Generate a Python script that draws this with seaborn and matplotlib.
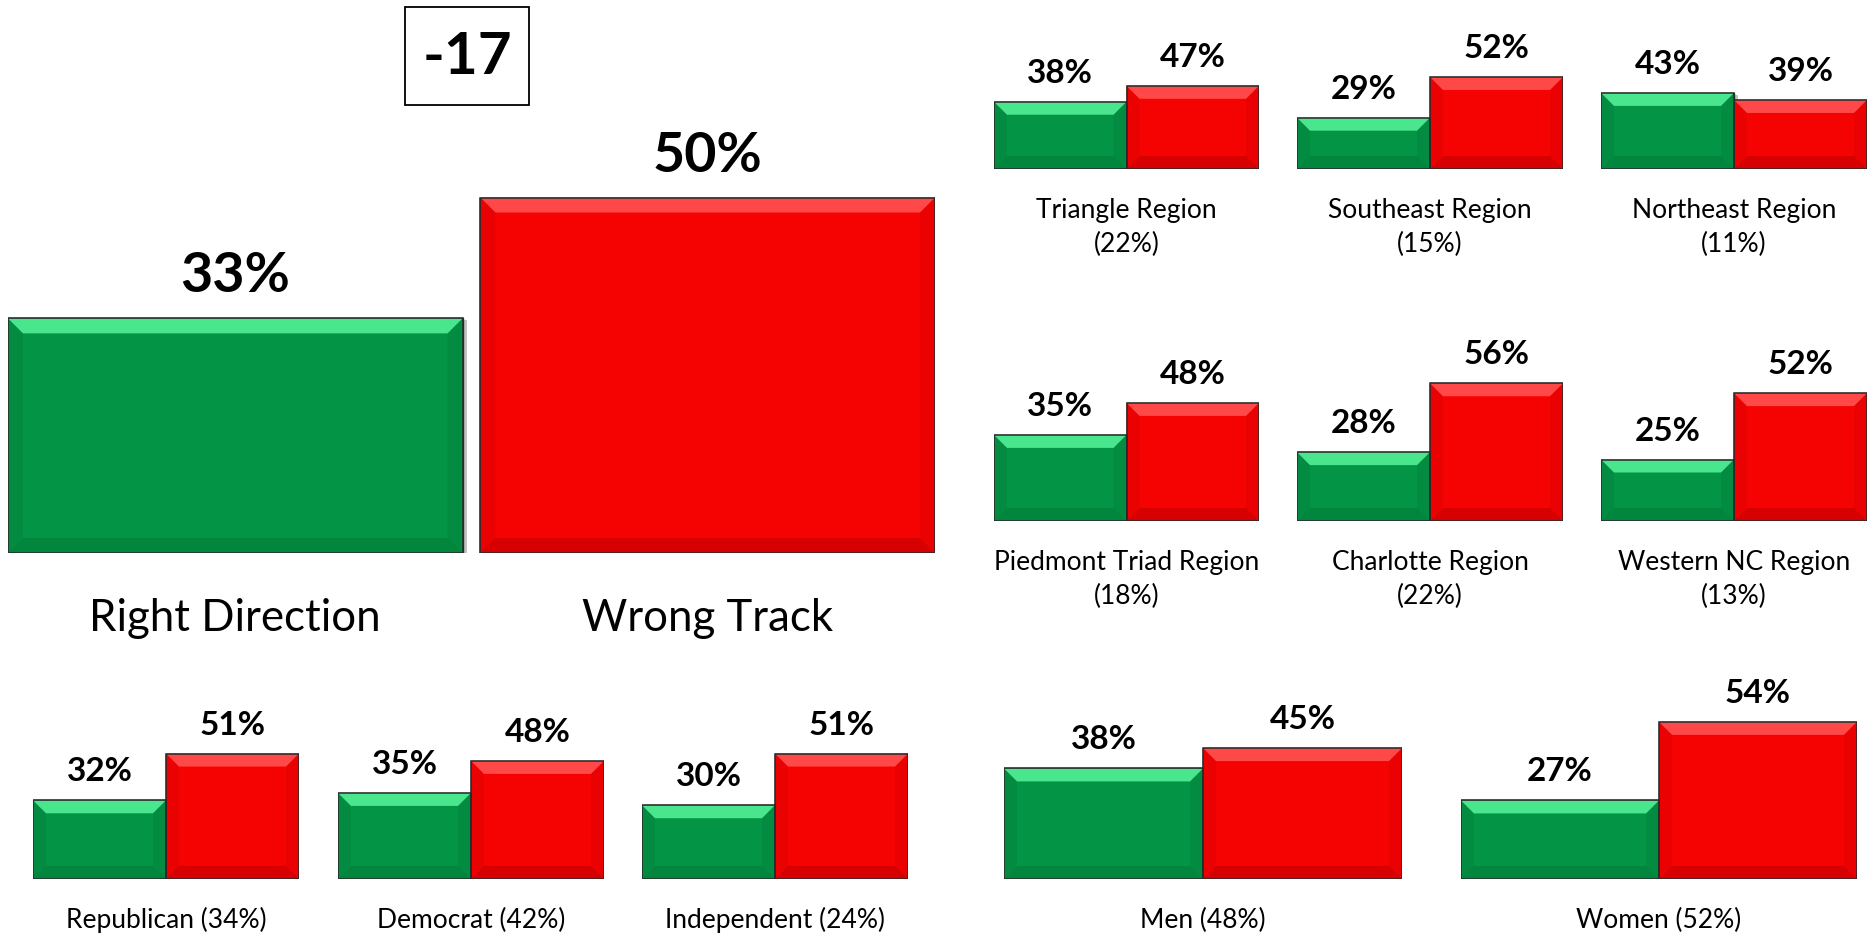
import numpy as np
import pandas as pd
import matplotlib
matplotlib.use("Agg")
import matplotlib.pyplot as plt
import matplotlib.patheffects as pe
from matplotlib.patches import Polygon, Rectangle
import seaborn as sns

# ---------------- data ----------------
answers = ["Right Direction", "Wrong Track"]
overall_values = [33, 50]

region_names = ["Triangle Region", "Southeast Region", "Northeast Region",
                "Piedmont Triad Region", "Charlotte Region", "Western NC Region"]
region_shares = ["22%", "15%", "11%", "18%", "22%", "13%"]
region_right = [38, 29, 43, 35, 28, 25]
region_wrong = [47, 52, 39, 48, 56, 52]

party_names = ["Republican", "Democrat", "Independent"]
party_shares = ["34%", "42%", "24%"]
party_right = [32, 35, 30]
party_wrong = [51, 48, 51]

gender_names = ["Men", "Women"]
gender_shares = ["48%", "52%"]
gender_right = [38, 27]
gender_wrong = [45, 54]

# ---------------- style ----------------
GREEN, RED = "#039445", "#F50303"
GREEN_TOP, RED_TOP = "#4AE68E", "#FF4848"
GREEN_BOT, RED_BOT = "#02853D", "#D60000"
GREEN_SIDE, RED_SIDE = "#038C41", "#EA0202"
EDGE = "#2A2A2A"
palette = {answers[0]: GREEN, answers[1]: RED}
tops = [GREEN_TOP, RED_TOP]
bots = [GREEN_BOT, RED_BOT]
sides = [GREEN_SIDE, RED_SIDE]

sns.set_theme(style="white")
plt.rcParams["font.family"] = ["Lato", "DejaVu Sans"]

W, H = 1868, 935
fig = plt.figure(figsize=(W / 100, H / 100), dpi=100)
fig.patch.set_facecolor("white")
YMAX = 60


def make_axes(left, right, baseline, ppp):
    h = YMAX * ppp
    return fig.add_axes([left / W, 1 - baseline / H, (right - left) / W, h / H])


def draw_panel(ax, vals, width, bevel, val_size, val_off):
    df = pd.DataFrame({"answer": answers, "pct": vals})
    sns.barplot(data=df, x="answer", y="pct", hue="answer", palette=palette,
                width=width, saturation=1, legend=False, errorbar=None,
                edgecolor=EDGE, linewidth=1.0, ax=ax, zorder=2)
    ax.set_xlim(-width / 2, 1 + width / 2)
    ax.set_ylim(0, YMAX)
    ax.axis("off")
    inv = ax.transData.inverted()
    bars = sorted(ax.patches, key=lambda p: p.get_x())
    for i, bar in enumerate(bars):
        bar.set_path_effects([pe.SimplePatchShadow(offset=(3, -1.5), shadow_rgbFace="#8a8a8a", alpha=0.5),
                              pe.Normal()])
        x0, y0 = bar.get_x(), bar.get_y()
        x1, y1 = x0 + bar.get_width(), y0 + bar.get_height()
        (px0, py0), (px1, py1) = ax.transData.transform([(x0, y0), (x1, y1)])
        b = bevel
        polys = [
            ([(px0, py0), (px0 + b, py0 + b), (px0 + b, py1 - b), (px0, py1)], sides[i]),
            ([(px1, py0), (px1 - b, py0 + b), (px1 - b, py1 - b), (px1, py1)], sides[i]),
            ([(px0, py1), (px1, py1), (px1 - b, py1 - b), (px0 + b, py1 - b)], tops[i]),
            ([(px0, py0), (px1, py0), (px1 - b, py0 + b), (px0 + b, py0 + b)], bots[i]),
        ]
        for pts, col in polys:
            ax.add_patch(Polygon(inv.transform(pts), closed=True, facecolor=col,
                                 edgecolor="none", zorder=3))
        ax.add_patch(Rectangle((x0, y0), x1 - x0, y1 - y0, facecolor="none",
                               edgecolor=EDGE, linewidth=1.1, zorder=4))
        ax.annotate(f"{vals[i]}%", xy=(i, vals[i]), xytext=(0, val_off),
                    textcoords="offset pixels", ha="center", va="baseline",
                    fontsize=val_size, fontweight="bold", color="black",
                    annotation_clip=False)


def small_label(ax, lines, size, first_off=49, spacing=34):
    for k, line in enumerate(lines):
        ax.annotate(line, xy=(0.5, 0), xycoords="axes fraction",
                    xytext=(0, -first_off - k * spacing), textcoords="offset pixels",
                    ha="center", va="baseline", fontsize=size, color="black",
                    annotation_clip=False)


# ---------------- overall panel ----------------
ax = make_axes(8, 935, 553, 7.11)
draw_panel(ax, overall_values, 0.962, 15, 40, 26)
for i, name in enumerate(answers):
    ax.annotate(name, xy=(i, 0), xytext=(0, -78), textcoords="offset pixels",
                ha="center", va="baseline", fontsize=31.5, color="black",
                annotation_clip=False)

net = overall_values[0] - overall_values[1]
fig.patches.append(Rectangle((405 / W, 1 - 105 / H), 124 / W, 98 / H,
                             transform=fig.transFigure, facecolor="white",
                             edgecolor="black", linewidth=1.3))
fig.text(467 / W, 1 - 74 / H, f"{net}", ha="center", va="baseline",
         fontsize=42, fontweight="bold", color="black")

# ---------------- regions ----------------
col_x = [(994, 1259), (1297, 1563), (1601, 1867)]
rows = [(169, 1.77), (521, 2.46)]
for idx in range(6):
    r, c = divmod(idx, 3)
    baseline, ppp = rows[r]
    ax = make_axes(col_x[c][0], col_x[c][1], baseline, ppp)
    draw_panel(ax, [region_right[idx], region_wrong[idx]], 1.0, 13, 24, 19)
    small_label(ax, [region_names[idx], f"({region_shares[idx]})"], 19)

# ---------------- party ----------------
party_x = [(33, 299), (338, 604), (642, 908)]
for i in range(3):
    ax = make_axes(party_x[i][0], party_x[i][1], 879, 2.46)
    draw_panel(ax, [party_right[i], party_wrong[i]], 1.0, 13, 24, 19)
    small_label(ax, [f"{party_names[i]} ({party_shares[i]})"], 19)

# ---------------- gender ----------------
gender_x = [(1004, 1402), (1461, 1857)]
for i in range(2):
    ax = make_axes(gender_x[i][0], gender_x[i][1], 879, 2.91)
    draw_panel(ax, [gender_right[i], gender_wrong[i]], 1.0, 13, 24, 19)
    small_label(ax, [f"{gender_names[i]} ({gender_shares[i]})"], 19)

fig.savefig("out.png", dpi=100, facecolor="white")
